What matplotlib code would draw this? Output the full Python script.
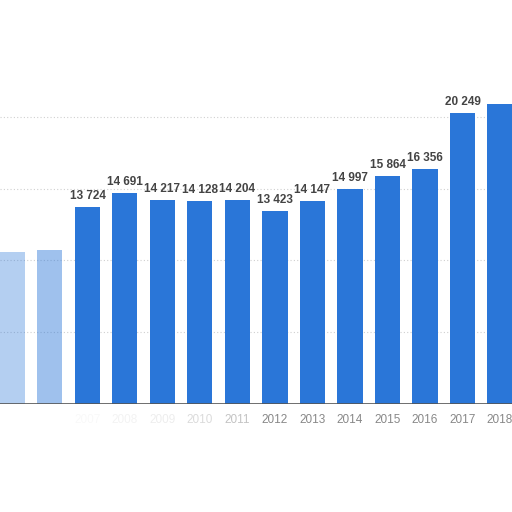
import matplotlib
matplotlib.use("Agg")
import matplotlib.pyplot as plt

years = [2005, 2006, 2007, 2008, 2009, 2010, 2011, 2012, 2013, 2014, 2015, 2016, 2017, 2018]
values = [10600, 10700, 13724, 14691, 14217, 14128, 14204, 13423, 14147, 14997, 15864, 16356, 20249, 20880]
labels = ["", "", "13 724", "14 691", "14 217", "14 128", "14 204", "13 423",
          "14 147", "14 997", "15 864", "16 356", "20 249", ""]
# how visible each column is (left side of the picture is faded out)
fade = [0.35, 0.45, 1, 1, 1, 1, 1, 1, 1, 1, 1, 1, 1, 1]
tick_fade = [0.0, 0.0, 0.05, 0.1, 0.15, 0.3, 0.5, 1, 1, 1, 1, 1, 1, 1]

bar_color = "#2a76d8"

fig = plt.figure(figsize=(5.12, 5.12), dpi=100)
ax = fig.add_axes([0, 0.211, 1, 0.789])

for y in [5000, 10000, 15000, 20000]:
    ax.axhline(y, color="#d0d0d0", lw=0.8, ls=(0, (1, 2)), zorder=0)

for yr, v, a in zip(years, values, fade):
    ax.bar(yr, v, width=0.667, color=bar_color, alpha=a, zorder=2)

for yr, v, lab in zip(years, values, labels):
    if lab:
        ax.text(yr, v + 350, lab, ha="center", va="bottom", fontsize=8.5,
                fontweight="bold", family="Liberation Sans", color="#444444")

ax.set_xlim(2004.667, 2018.32)
ax.set_ylim(0, 28150)
ax.axhline(0, color="#555555", lw=1.2, zorder=3)

for s in ax.spines.values():
    s.set_visible(False)
ax.set_yticks([])
ax.set_xticks([])
for yr, a in zip(years, tick_fade):
    if a > 0:
        ax.text(yr, -700, str(yr), ha="center", va="top", fontsize=8.5,
                family="Liberation Sans", color="#888888", alpha=a)

fig.savefig("out.png", dpi=100)
